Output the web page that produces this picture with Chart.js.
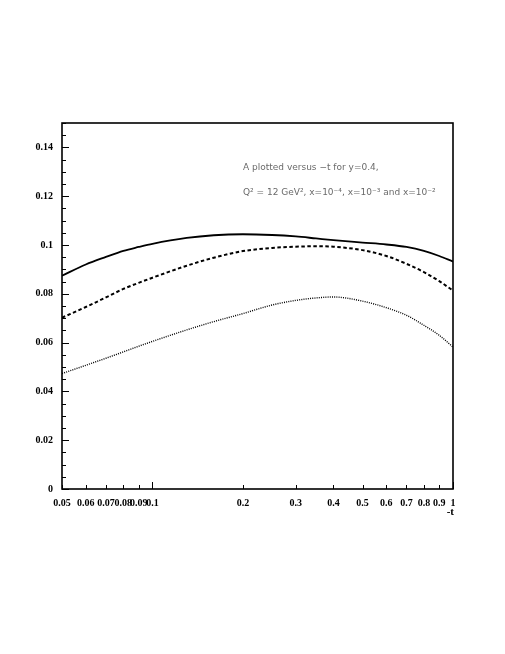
<!DOCTYPE html>
<html>
<head>
<meta charset="utf-8">
<script src="https://cdn.jsdelivr.net/npm/chart.js@4"></script>
<style>
  html, body { margin: 0; padding: 0; background: #fff; }
  #wrap { width: 505px; height: 654px; }
</style>
</head>
<body>
<div id="wrap"><canvas id="c" width="505" height="654"></canvas></div>
<script>
// -t values (shared by all three curves)
const tValues = [0.05, 0.06, 0.07, 0.08, 0.09, 0.1, 0.13, 0.16, 0.2, 0.25, 0.3, 0.35, 0.4, 0.5, 0.6, 0.7, 0.8, 0.9, 1.0];
// A for x = 1e-4 (solid), 1e-3 (dashed), 1e-2 (dotted)
const aSolid  = [0.0874, 0.0920, 0.0951, 0.0976, 0.0992, 0.1005, 0.1029, 0.1040, 0.1044, 0.1041, 0.1035, 0.1027, 0.1020, 0.1010, 0.1002, 0.0992, 0.0976, 0.0955, 0.0932];
const aDashed = [0.0702, 0.0746, 0.0785, 0.0820, 0.0845, 0.0866, 0.0915, 0.0948, 0.0975, 0.0988, 0.0993, 0.0995, 0.0993, 0.0979, 0.0955, 0.0923, 0.0889, 0.0852, 0.0813];
const aDotted = [0.0473, 0.0507, 0.0536, 0.0562, 0.0585, 0.0605, 0.0652, 0.0686, 0.0719, 0.0754, 0.0773, 0.0783, 0.0787, 0.0770, 0.0743, 0.0712, 0.0671, 0.0630, 0.0582];

const xTickValues = [0.05, 0.06, 0.07, 0.08, 0.09, 0.1, 0.2, 0.3, 0.4, 0.5, 0.6, 0.7, 0.8, 0.9, 1];
const xTickLabels = ['0.05', '0.06', '0.07', '0.08', '0.09', '0.1', '0.2', '0.3', '0.4', '0.5', '0.6', '0.7', '0.8', '0.9', '1'];
const yTickValues = [0, 0.02, 0.04, 0.06, 0.08, 0.1, 0.12, 0.14];
const yTickLabels = ['0', '0.02', '0.04', '0.06', '0.08', '0.1', '0.12', '0.14'];

const noteLine1 = 'A plotted versus \u2212t for y=0.4,';
const noteLine2 = 'Q\u00b2 = 12 GeV\u00b2, x=10\u207b\u2074, x=10\u207b\u00b3 and x=10\u207b\u00b2';

function pts(ys) {
  return tValues.map(function(t, i) { return { x: t, y: ys[i] }; });
}

// frame, inward ticks and text
const decor = {
  id: 'decor',
  afterDraw: function(chart) {
    const ctx = chart.ctx;
    const a = chart.chartArea;
    const xs = chart.scales.x;
    const ys = chart.scales.y;
    ctx.save();
    ctx.strokeStyle = '#000';
    ctx.lineWidth = 1;
    // y ticks, minor every 0.005
    for (let i = 0; i <= 30; i++) {
      const v = i * 0.005;
      const py = Math.round(ys.getPixelForValue(v)) + 0.5;
      const len = (i % 4 === 0) ? 7 : 4;
      ctx.beginPath();
      ctx.moveTo(a.left, py);
      ctx.lineTo(a.left + len, py);
      ctx.stroke();
    }
    // x ticks
    xTickValues.forEach(function(v) {
      const px = Math.round(xs.getPixelForValue(v)) + 0.5;
      const len = (v === 0.1 || v === 1) ? 7 : 4;
      ctx.beginPath();
      ctx.moveTo(px, a.bottom);
      ctx.lineTo(px, a.bottom - len);
      ctx.stroke();
    });
    // frame
    ctx.lineWidth = 1.6;
    ctx.strokeRect(a.left, a.top, a.right - a.left, a.bottom - a.top);
    // axis title
    ctx.fillStyle = '#000';
    ctx.font = 'bold 11px "Liberation Serif"';
    ctx.textAlign = 'right';
    ctx.textBaseline = 'middle';
    ctx.fillText('-t', a.right + 1, 512);
    // note
    ctx.fillStyle = '#6a6a6a';
    ctx.font = '9px "DejaVu Sans"';
    ctx.textAlign = 'left';
    ctx.fillText(noteLine1, 243, 168);
    ctx.fillText(noteLine2, 243, 193);
    ctx.restore();
  }
};

new Chart(document.getElementById('c').getContext('2d'), {
  type: 'line',
  data: {
    datasets: [
      { data: pts(aSolid), borderColor: '#000', borderWidth: 1.8, pointRadius: 0, cubicInterpolationMode: 'monotone', fill: false },
      { data: pts(aDashed), borderColor: '#000', borderWidth: 2, borderDash: [3.5, 2.5], pointRadius: 0, cubicInterpolationMode: 'monotone', fill: false },
      { data: pts(aDotted), borderColor: '#000', borderWidth: 1.4, borderDash: [1, 1.2], pointRadius: 0, cubicInterpolationMode: 'monotone', fill: false }
    ]
  },
  options: {
    responsive: false,
    animation: false,
    layout: { padding: { left: 0, right: 52, top: 123, bottom: 0 } },
    plugins: { legend: { display: false }, tooltip: { enabled: false } },
    scales: {
      x: {
        type: 'logarithmic',
        min: 0.05,
        max: 1,
        grid: { display: false, drawTicks: false },
        border: { display: false },
        afterBuildTicks: function(scale) {
          scale.ticks = xTickValues.map(function(v) { return { value: v }; });
        },
        afterFit: function(scale) { scale.height = 654 - 489; },
        ticks: {
          autoSkip: false,
          maxRotation: 0,
          padding: 8,
          color: '#000',
          font: { family: 'Liberation Serif', weight: 'bold', size: 10 },
          callback: function(value, index) { return xTickLabels[index]; }
        }
      },
      y: {
        min: 0,
        max: 0.15,
        grid: { display: false, drawTicks: false },
        border: { display: false },
        afterBuildTicks: function(scale) {
          scale.ticks = yTickValues.map(function(v) { return { value: v }; });
        },
        afterFit: function(scale) { scale.width = 62; },
        ticks: {
          padding: 9,
          color: '#000',
          font: { family: 'Liberation Serif', weight: 'bold', size: 10 },
          callback: function(value, index) { return yTickLabels[index]; }
        }
      }
    }
  },
  plugins: [decor]
});
</script>
</body>
</html>
